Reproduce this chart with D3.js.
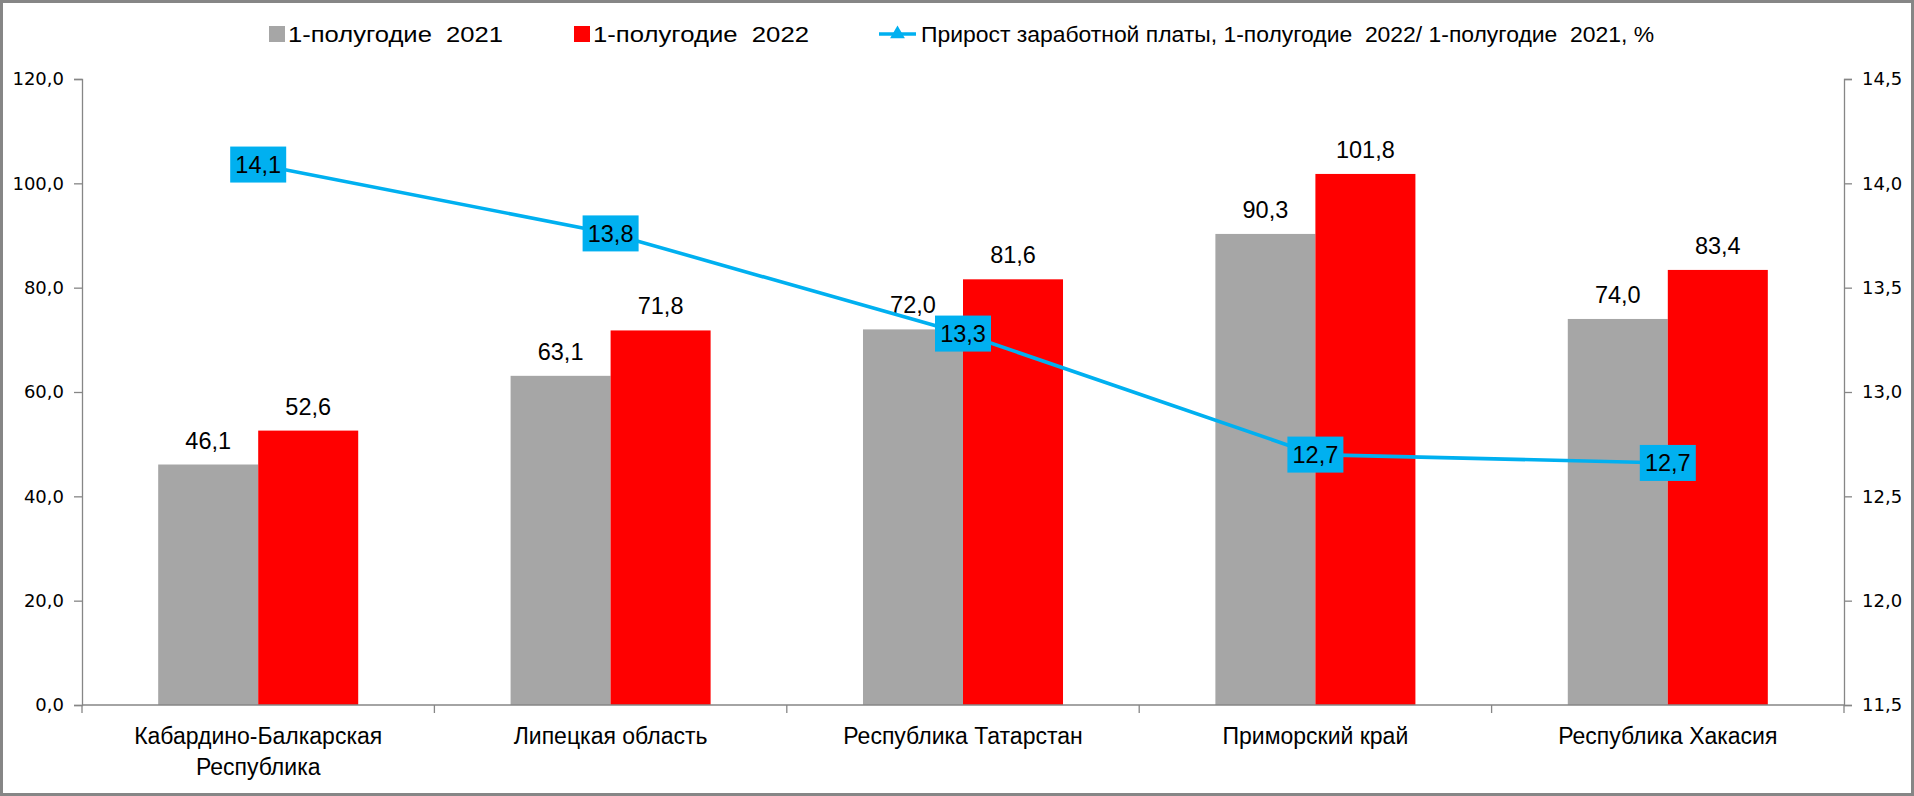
<!DOCTYPE html>
<html>
<head>
<meta charset="utf-8">
<script src="https://cdn.jsdelivr.net/npm/d3@7"></script>
<style>
  html, body { margin: 0; padding: 0; background: #fff; }
  svg { display: block; }
  text { white-space: pre; }
</style>
</head>
<body>
<svg id="chart" width="1914" height="796"></svg>
<script>
// ---- data ----
const categories = [
  ["Кабардино-Балкарская", "Республика"],
  ["Липецкая область"],
  ["Республика Татарстан"],
  ["Приморский край"],
  ["Республика Хакасия"]
];
const values2021 = [46.1, 63.1, 72.0, 90.3, 74.0];
const values2022 = [52.6, 71.8, 81.6, 101.8, 83.4];
const growth = [14.09, 13.76, 13.28, 12.70, 12.66];
const seriesNames = [
  "1-полугодие  2021",
  "1-полугодие  2022",
  "Прирост заработной платы, 1-полугодие  2022/ 1-полугодие  2021, %"
];
const leftTicks = [0, 20, 40, 60, 80, 100, 120];
const rightTicks = [11.5, 12.0, 12.5, 13.0, 13.5, 14.0, 14.5];

// ---- layout ----
const W = 1914, H = 796;
const plot = { left: 82, right: 1844, top: 79, bottom: 705 };
const colGray = "#A6A6A6", colRed = "#FF0000", colBlue = "#00B0F0", axisCol = "#868686";
const labelFont = "'Liberation Sans', Arial, sans-serif";
const tickFont = "'DejaVu Sans', Verdana, sans-serif";

const svg = d3.select("#chart");
svg.append("rect").attr("x", 1.5).attr("y", 1.5).attr("width", W - 3).attr("height", H - 3)
  .attr("fill", "#fff").attr("stroke", axisCol).attr("stroke-width", 3);

const idx = d3.range(categories.length);
const x = d3.scaleBand().domain(idx).range([plot.left, plot.right]).paddingInner(0).paddingOuter(0);
const yL = d3.scaleLinear().domain([0, 120]).range([plot.bottom, plot.top]);
const yR = d3.scaleLinear().domain([11.5, 14.5]).range([plot.bottom, plot.top]);
const barW = x.bandwidth() * 0.2838;
const fmt = v => d3.format(".1f")(v).replace(".", ",");

// bars
const series = [values2021, values2022];
const colors = [colGray, colRed];
series.forEach((vals, s) => {
  const g = svg.append("g");
  g.selectAll("rect").data(vals).join("rect")
    .attr("x", (d, i) => x(i) + x.bandwidth() / 2 - barW + s * barW)
    .attr("y", d => yL(d))
    .attr("width", barW)
    .attr("height", d => yL(0) - yL(d))
    .attr("fill", colors[s]);
  g.selectAll("text").data(vals).join("text")
    .attr("x", (d, i) => x(i) + x.bandwidth() / 2 - barW / 2 + s * barW)
    .attr("y", d => yL(d) - 16)
    .attr("text-anchor", "middle")
    .attr("font-family", labelFont).attr("font-size", 23.5).attr("fill", "#000")
    .text(d => fmt(d));
});

// axes
const axL = d3.axisLeft(yL).tickValues(leftTicks).tickSize(8).tickPadding(10).tickFormat(d => fmt(d));
const gL = svg.append("g").attr("transform", `translate(${plot.left},0)`).call(axL);
const axR = d3.axisRight(yR).tickValues(rightTicks).tickSize(8).tickPadding(10).tickFormat(d => fmt(d));
const gR = svg.append("g").attr("transform", `translate(${plot.right},0)`).call(axR);
[gL, gR].forEach(g => {
  g.select(".domain").attr("stroke", axisCol).attr("stroke-width", 1.3);
  g.selectAll(".tick line").attr("stroke", axisCol).attr("stroke-width", 1.3);
  g.selectAll(".tick text").attr("font-family", tickFont).attr("font-size", 18).attr("fill", "#000");
});

// x axis
const gX = svg.append("g");
gX.append("line").attr("x1", plot.left).attr("x2", plot.right)
  .attr("y1", plot.bottom).attr("y2", plot.bottom).attr("stroke", axisCol).attr("stroke-width", 1.3);
const bounds = d3.range(categories.length + 1).map(i => i < categories.length ? x(i) : plot.right);
gX.selectAll("line.tk").data(bounds).join("line").attr("class", "tk")
  .attr("x1", d => d).attr("x2", d => d).attr("y1", plot.bottom).attr("y2", plot.bottom + 8)
  .attr("stroke", axisCol).attr("stroke-width", 1.3);
categories.forEach((lines, i) => {
  const t = gX.append("text").attr("text-anchor", "middle")
    .attr("font-family", labelFont).attr("font-size", 23).attr("fill", "#000");
  lines.forEach((ln, j) => {
    t.append("tspan").attr("x", x(i) + x.bandwidth() / 2).attr("y", 744 + j * 31).text(ln);
  });
});

// line series
const line = d3.line().x((d, i) => x(i) + x.bandwidth() / 2).y(d => yR(d));
svg.append("path").datum(growth).attr("d", line)
  .attr("fill", "none").attr("stroke", colBlue).attr("stroke-width", 3.6);
const lbl = svg.append("g").selectAll("g").data(growth).join("g")
  .attr("transform", (d, i) => `translate(${x(i) + x.bandwidth() / 2},${yR(d)})`);
lbl.append("rect").attr("x", -28).attr("y", -18).attr("width", 56).attr("height", 36).attr("fill", colBlue);
lbl.append("text").attr("text-anchor", "middle").attr("dy", 8.5)
  .attr("font-family", labelFont).attr("font-size", 23.5).attr("fill", "#000")
  .text(d => fmt(d));

// legend
const legY = 34;
const lg = svg.append("g");
lg.append("rect").attr("x", 269).attr("y", legY - 8).attr("width", 16).attr("height", 16).attr("fill", colGray);
lg.append("text").attr("x", 288).attr("y", legY + 8).attr("font-family", labelFont).attr("font-size", 22)
  .attr("textLength", 215).attr("lengthAdjust", "spacingAndGlyphs").text(seriesNames[0]);
lg.append("rect").attr("x", 574).attr("y", legY - 8).attr("width", 16).attr("height", 16).attr("fill", colRed);
lg.append("text").attr("x", 593).attr("y", legY + 8).attr("font-family", labelFont).attr("font-size", 22)
  .attr("textLength", 216).attr("lengthAdjust", "spacingAndGlyphs").text(seriesNames[1]);
lg.append("line").attr("x1", 879).attr("x2", 916).attr("y1", legY).attr("y2", legY)
  .attr("stroke", colBlue).attr("stroke-width", 3.6);
lg.append("path").attr("d", d3.symbol(d3.symbolTriangle, 95)()).attr("transform", `translate(897.5,${legY})`)
  .attr("fill", colBlue);
lg.append("text").attr("x", 921).attr("y", legY + 8).attr("font-family", labelFont).attr("font-size", 22)
  .attr("textLength", 733).attr("lengthAdjust", "spacingAndGlyphs").text(seriesNames[2]);
</script>
</body>
</html>
